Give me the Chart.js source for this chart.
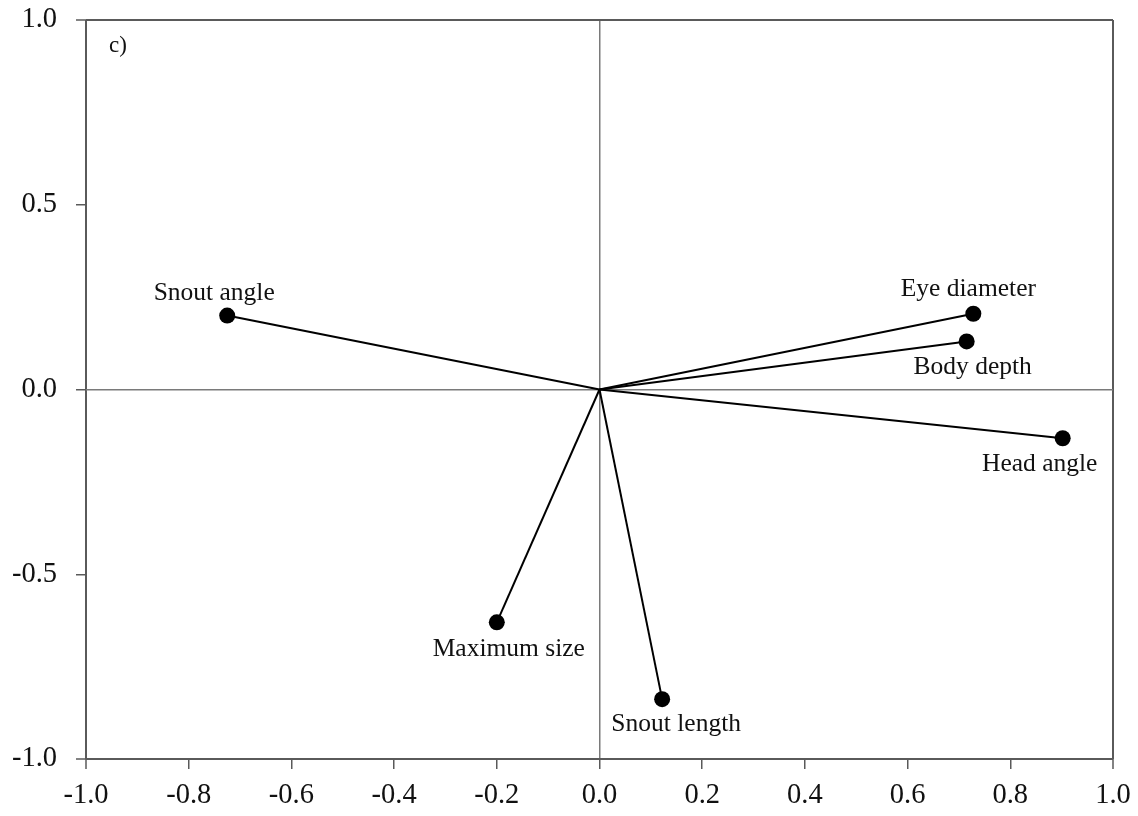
<!DOCTYPE html>
<html><head><meta charset="utf-8">
<script src="https://cdn.jsdelivr.net/npm/chart.js@4.4.0/dist/chart.umd.min.js"></script>
<style>html,body{margin:0;padding:0;background:#fff;overflow:hidden}</style>
</head><body>
<canvas id="c" width="1138" height="816"></canvas>
<script>
// ---- data ----
const variables = ["Snout angle", "Eye diameter", "Body depth", "Head angle", "Maximum size", "Snout length"];
const axis1 = [-0.725, 0.728, 0.715, 0.902, -0.200, 0.122];
const axis2 = [0.200, 0.205, 0.130, -0.132, -0.630, -0.838];
const xTickValues = [-1.0, -0.8, -0.6, -0.4, -0.2, 0.0, 0.2, 0.4, 0.6, 0.8, 1.0];
const yTickValues = [-1.0, -0.5, 0.0, 0.5, 1.0];
const panelLabel = "c)";

// ---- label placement (pixel offsets from point) ----
const labelOffsets = [[-13, -22], [-5, -24], [6, 26], [-23, 26], [12, 27], [14, 25]];

const FONT = "'Liberation Serif', 'Times New Roman', serif";

const datasets = variables.map((name, i) => ({
  label: name,
  data: [{x: 0, y: 0}, {x: axis1[i], y: axis2[i]}],
  showLine: true,
  borderColor: '#000',
  borderWidth: 2,
  pointRadius: [0, 8],
  pointHoverRadius: [0, 8],
  pointBackgroundColor: '#000',
  pointBorderColor: '#000',
  pointBorderWidth: 0
}));

function gridColor(ctx) {
  const v = ctx.tick ? ctx.tick.value : null;
  if (v === null) return 'rgba(0,0,0,0)';
  if (Math.abs(Math.abs(v) - 1) < 1e-9) return '#5a5a5a';
  if (Math.abs(v) < 1e-9) return '#7a7a7a';
  return 'rgba(0,0,0,0)';
}
function gridWidth(ctx) {
  const v = ctx.tick ? ctx.tick.value : 0;
  if (Math.abs(Math.abs(v) - 1) < 1e-9) return 2;
  return 1.5;
}

const labelPlugin = {
  id: 'labels',
  afterDatasetsDraw(chart) {
    const ctx = chart.ctx;
    ctx.save();
    ctx.fillStyle = '#111';
    ctx.font = "25.5px " + FONT;
    ctx.textAlign = 'center';
    ctx.textBaseline = 'middle';
    variables.forEach((name, i) => {
      const el = chart.getDatasetMeta(i).data[1];
      const off = labelOffsets[i];
      ctx.fillText(name, el.x + off[0], el.y + off[1]);
    });
    const a = chart.chartArea;
    ctx.font = "23px " + FONT;
    ctx.textAlign = 'left';
    ctx.fillText(panelLabel, a.left + 23, a.top + 26);
    ctx.restore();
  }
};

new Chart(document.getElementById('c'), {
  type: 'scatter',
  data: { datasets },
  options: {
    responsive: false,
    animation: false,
    layout: { padding: { top: 20, right: 25, left: 0, bottom: 0 } },
    plugins: { legend: { display: false }, tooltip: { enabled: false } },
    scales: {
      x: {
        type: 'linear', min: -1, max: 1,
        afterBuildTicks(s) { s.ticks = xTickValues.map(v => ({value: v})); },
        afterFit(s) { s.height = 57; s.paddingLeft = 0; s.paddingRight = 0; },
        border: { display: false },
        grid: { color: gridColor, lineWidth: gridWidth, tickColor: '#5a5a5a', tickLength: 10, tickWidth: 1.5 },
        ticks: { color: '#111', font: { family: FONT, size: 28.5 }, padding: 9, maxRotation: 0, autoSkip: false,
                 callback: v => v.toFixed(1) }
      },
      y: {
        type: 'linear', min: -1, max: 1,
        afterBuildTicks(s) { s.ticks = yTickValues.map(v => ({value: v})); },
        afterFit(s) { s.width = 86; s.paddingTop = 0; s.paddingBottom = 0; },
        border: { display: false },
        grid: { color: gridColor, lineWidth: gridWidth, tickColor: '#5a5a5a', tickLength: 10, tickWidth: 1.5 },
        ticks: { color: '#111', font: { family: FONT, size: 28.5 }, padding: 19, autoSkip: false,
                 callback: v => v.toFixed(1) }
      }
    }
  },
  plugins: [labelPlugin]
});
</script>
</body></html>
